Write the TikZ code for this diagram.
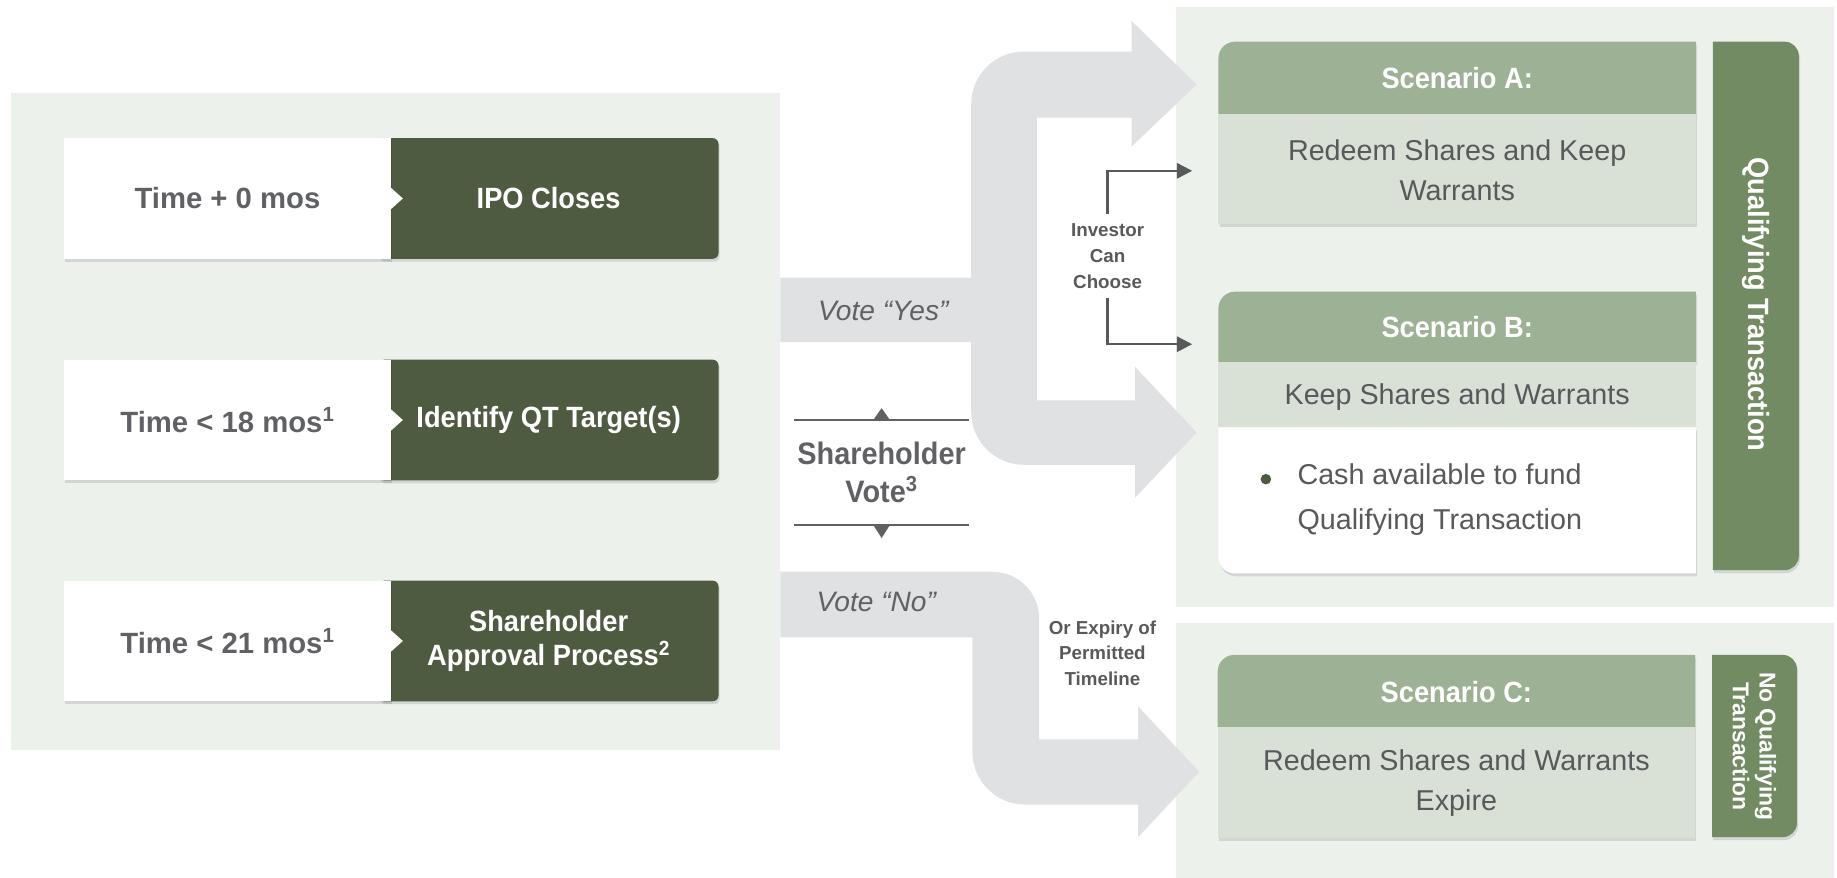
\documentclass[tikz,border=0pt]{standalone}
\usepackage{fontspec}
\setmainfont{Liberation Sans}
\newfontfamily\condfont[FakeStretch=0.93]{Liberation Sans}
\usepackage{tikz}
\usetikzlibrary{shadows}
\usetikzlibrary{arrows.meta}

\definecolor{panelbg}{RGB}{237,241,236}
\definecolor{arrowgray}{RGB}{224,225,227}
\definecolor{stepgreen}{RGB}{79,91,65}
\definecolor{headgreen}{RGB}{157,177,148}
\definecolor{bodygreen}{RGB}{217,224,213}
\definecolor{bargreen}{RGB}{114,139,98}
\definecolor{textgray}{RGB}{96,97,101}
\definecolor{bodygray}{RGB}{88,89,91}

\tikzset{
  cardshadow/.style={drop shadow={shadow xshift=1pt, shadow yshift=-2.5pt, opacity=0.11, fill=black}},
  timebox/.style={fill=white, cardshadow, minimum width=279pt, minimum height=103pt,
    inner sep=0pt, text=textgray, font=\bfseries\fontsize{25}{30}\selectfont},
  stepbox/.style={fill=stepgreen, cardshadow, rounded corners=5pt, minimum width=290pt,
    minimum height=103pt, inner sep=0pt, text=white, align=center,
    font=\condfont\bfseries\fontsize{25}{29.4}\selectfont},
  headtext/.style={text=white, font=\condfont\bfseries\fontsize{25}{30}\selectfont},
  bodytext/.style={text=bodygray, align=center, font=\fontsize{24.5}{34}\selectfont},
  votetext/.style={text=textgray, font=\itshape\fontsize{24}{28}\selectfont},
  votelabel/.style={text=textgray, align=center, inner sep=0pt,
    font=\condfont\bfseries\fontsize{26.5}{32}\selectfont},
  voteline/.style={draw=textgray, line width=1.5pt},
  smalllabel/.style={text=bodygray, align=center, font=\bfseries\fontsize{16}{22}\selectfont},
  bartext/.style={text=white, rotate=-90, align=center},
  choosearrow/.style={draw=bodygray, line width=2pt, -{Triangle[length=13pt,width=13pt]}}
}

\begin{document}
\begin{tikzpicture}[x=1pt, y=-1pt]
    \useasboundingbox (0,0) rectangle (1568,749.4);

    % Panels: background
    \fill[panelbg] (9.5,79.5) rectangle (666,640);
    \fill[panelbg] (1003.8,5.7) rectangle (1565,518.5);
    \fill[panelbg] (1003.8,531.5) rectangle (1565,749.4);

    % Arrows: vote yes (split in two)
    \fill[arrowgray] (666,237) -- (829,237) -- (829,89)
      .. controls (829,64.1) and (849.1,44) .. (874,44) -- (966,44) -- (966,18)
      -- (1021.4,72.2) -- (966,125) -- (966,100.4) -- (885,100.4) -- (885,341.7)
      -- (968.8,341.7) -- (968.8,313) -- (1021.4,369.2) -- (968.8,425) -- (968.8,396.7)
      -- (874,396.7) .. controls (849.1,396.7) and (829,376.6) .. (829,351.7)
      -- (829,292) -- (666,292) -- cycle;

    % Arrows: vote no
    \fill[arrowgray] (666,488) -- (847,488)
      .. controls (869.1,488) and (887,505.9) .. (887,528) -- (887,631)
      -- (971.5,631) -- (971.5,603) -- (1023.6,658.8) -- (971.5,714.5) -- (971.5,686.7)
      -- (875,686.7) .. controls (850.1,686.7) and (830,666.6) .. (830,641.7)
      -- (830,544) -- (666,544) -- cycle;

    % Rows: timeline
    \node[stepbox] (ipo) at (468.3,169.4) {IPO Closes};
    \node[timebox] (t0) at (194.15,169.4) {Time + 0 mos};
    \node[stepbox] (target) at (468.3,358.5) {Identify QT Target(s)};
    \node[timebox] (t18) at (194.15,358.5) {Time < 18 mos\textsuperscript{1}};
    \node[stepbox] (approval) at (468.3,547.1) {Shareholder\\Approval Process\textsuperscript{2}};
    \node[timebox] (t21) at (194.15,547.1) {Time < 21 mos\textsuperscript{1}};

    % Notches: white box into dark box
    \foreach \row in {t0,t18,t21}
      \fill[white] ([yshift=9pt]\row.east) -- ([xshift=10pt]\row.east) -- ([yshift=-9pt]\row.east) -- cycle;

    % Labels: vote yes & vote no
    \node[votetext] (yes) at (754,265) {Vote “Yes”};
    \node[votetext] (no) at (748,514) {Vote “No”};

    % Shareholder vote with its two rules
    \node[votelabel, minimum width=149.3pt, minimum height=89.5pt] (vote) at (752.5,403.3) {Shareholder\\Vote\textsuperscript{3}};
    \draw[voteline] (vote.north west) -- (vote.north east);
    \draw[voteline] (vote.south west) -- (vote.south east);
    \fill[textgray] ([xshift=-7pt]vote.north) -- ([yshift=10pt]vote.north) -- ([xshift=7pt]vote.north) -- cycle;
    \fill[textgray] ([xshift=-7pt]vote.south) -- ([yshift=-11pt]vote.south) -- ([xshift=7pt]vote.south) -- cycle;

    % Investor can choose: arrows to A and B
    \node[smalllabel, inner sep=8pt] (choose) at (945.4,218.4) {Investor\\Can\\Choose};
    \coordinate (tipA) at (1017.6,145.8);
    \coordinate (tipB) at (1017.6,293.8);
    \draw[choosearrow] (choose.north) |- (tipA);
    \draw[choosearrow] (choose.south) |- (tipB);

    % Label: expiry
    \node[smalllabel] (expiry) at (941,557.5) {Or Expiry of\\Permitted\\Timeline};

    % Scenario A
    \fill[headgreen, cardshadow] (1040,97.6) -- (1040,49.6) .. controls (1040,41.9) and (1046.3,35.6) .. (1054,35.6)
      -- (1447.6,35.6) -- (1447.6,97.6) -- cycle;
    \fill[bodygreen, cardshadow] (1040,97.6) rectangle (1447.6,191);
    \node[headtext] (scenA) at (1243.8,66.6) {Scenario A:};
    \node[bodytext] (redeemA) at (1243.8,145.6) {Redeem Shares and Keep\\Warrants};

    % Scenario B
    \fill[headgreen, cardshadow] (1040,309) -- (1040,263) .. controls (1040,255.3) and (1046.3,249) .. (1054,249)
      -- (1447.6,249) -- (1447.6,309) -- cycle;
    \fill[bodygreen] (1040,309) rectangle (1447.6,364.8);
    \fill[white, cardshadow] (1040,364.8) -- (1447.6,364.8) -- (1447.6,489.4) -- (1054,489.4)
      .. controls (1046.3,489.4) and (1040,483.1) .. (1040,475.4) -- cycle;
    \node[headtext] (scenB) at (1243.8,279) {Scenario B:};
    \node[bodytext] (keepB) at (1243.8,338.8) {Keep Shares and Warrants};
    \fill[stepgreen] (1080.5,409) circle (4.5pt);
    \node[bodytext, align=left, anchor=west, font=\fontsize{24.5}{38}\selectfont] (cashB) at (1104,426.5) {Cash available to fund\\Qualifying Transaction};

    % Scenario C
    \fill[headgreen, cardshadow] (1039.4,620.8) -- (1039.4,573) .. controls (1039.4,565.3) and (1045.7,559) .. (1053.4,559)
      -- (1446.8,559) -- (1446.8,620.8) -- cycle;
    \fill[bodygreen, cardshadow] (1039.4,620.8) rectangle (1446.8,715.5);
    \node[headtext] (scenC) at (1243.1,590.4) {Scenario C:};
    \node[bodytext, font=\fontsize{24.5}{34.7}\selectfont] (redeemC) at (1243.1,668.4) {Redeem Shares and Warrants\\Expire};

    % Bars: qualifying & no qualifying
    \fill[bargreen, cardshadow] (1462,35.6) -- (1523.4,35.6) .. controls (1530,35.6) and (1535.4,41) .. (1535.4,47.6)
      -- (1535.4,474.6) .. controls (1535.4,481.2) and (1530,486.6) .. (1523.4,486.6) -- (1462,486.6) -- cycle;
    \fill[bargreen, cardshadow] (1461.3,559) -- (1521.8,559) .. controls (1528.4,559) and (1533.8,564.4) .. (1533.8,571)
      -- (1533.8,702.5) .. controls (1533.8,709.1) and (1528.4,714.5) .. (1521.8,714.5) -- (1461.3,714.5) -- cycle;
    \node[bartext, font=\condfont\bfseries\fontsize{25}{30}\selectfont] (qual) at (1498.6,260) {Qualifying Transaction};
    \node[bartext, font=\bfseries\fontsize{19.5}{23}\selectfont] (noqual) at (1497.5,637) {No Qualifying\\Transaction};

\end{tikzpicture}
\end{document}
